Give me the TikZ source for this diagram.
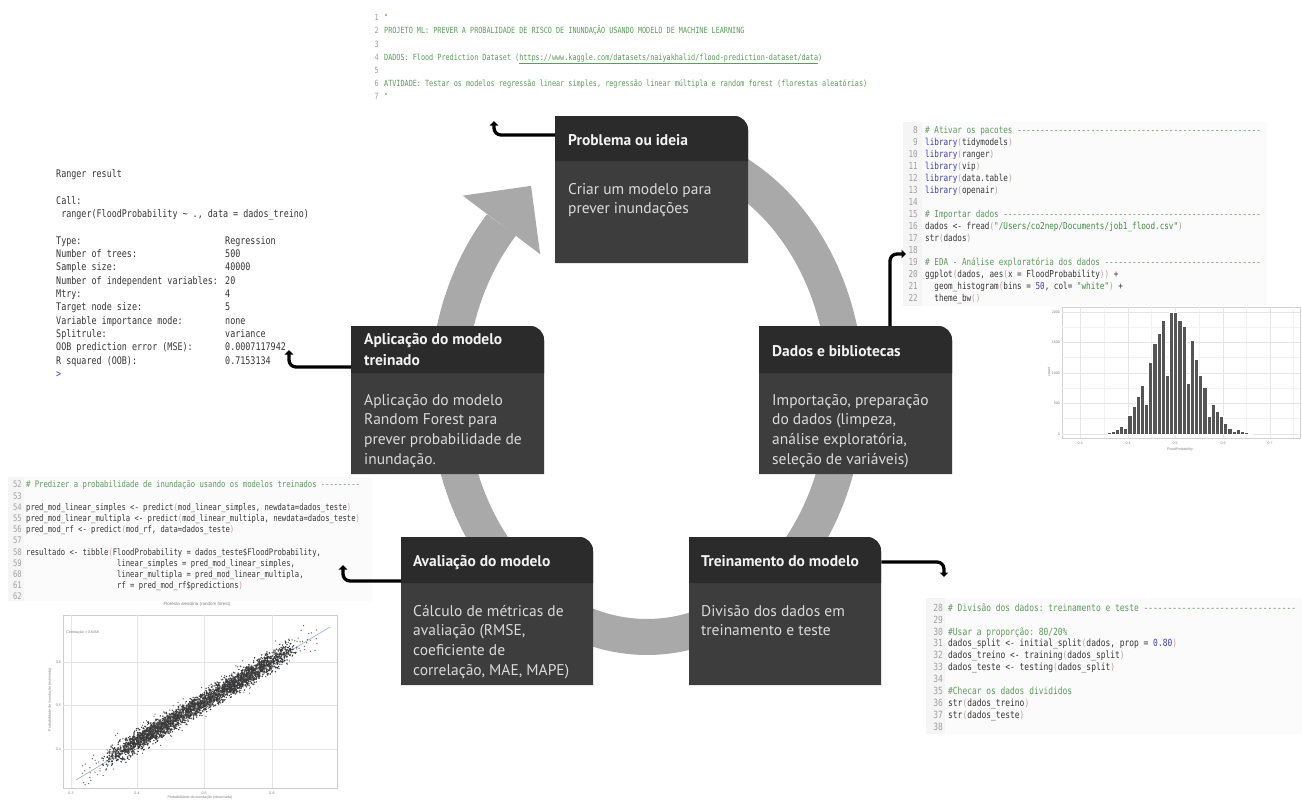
\documentclass[tikz,border=0pt]{standalone}
\usepackage{fontspec}
\setmainfont{PT Sans}
\setmonofont[FakeStretch=0.8]{DejaVu Sans Mono}
\newfontfamily\plotfont{Liberation Sans}
\usetikzlibrary{arrows.meta}
\definecolor{hdrbg}{HTML}{2B2B2B}
\definecolor{bdybg}{HTML}{3D3D3D}
\definecolor{hdrfg}{HTML}{F2F2F2}
\definecolor{bodyfg}{HTML}{DADADA}
\definecolor{ringc}{HTML}{A9A9A9}
\definecolor{cgreen}{HTML}{5C9C5C}
\definecolor{cblue}{HTML}{3C3CC8}
\definecolor{cnumc}{HTML}{A0A0A0}
\definecolor{ctext}{HTML}{363636}
\definecolor{cparc}{HTML}{C4A0A0}
\definecolor{cstrc}{HTML}{3F8F3F}
\definecolor{barc}{HTML}{555555}
\definecolor{ptc}{HTML}{3A3A3A}
\definecolor{lineblue}{HTML}{8FB0D0}
\newcommand\codesz[2]{\fontsize{#1}{#2}\selectfont\ttfamily}
\newcommand\ccom[1]{\textcolor{cgreen}{#1}}
\newcommand\ckw[1]{\textcolor{cblue}{#1}}
\newcommand\cpar[1]{\textcolor{cparc}{#1}}
\newcommand\cstr[1]{\textcolor{cstrc}{#1}}
\newcommand\cnmb[1]{\textcolor{cblue}{#1}}
\newcommand\stagebox[6]{%
  \node[boxnode, minimum width=#4pt, minimum height=#5pt] (#1) at (#2,#3) {};
  \fill[bdybg] ({#2+#4/2},#3) [rounded corners=14pt] -- ({#2+#4},#3) -- ({#2+#4},{#3+30}) [sharp corners] -- ({#2+#4},{#3+#5}) -- (#2,{#3+#5}) -- (#2,#3) -- cycle;
  \fill[hdrbg] ({#2+#4/2},#3) [rounded corners=14pt] -- ({#2+#4},#3) -- ({#2+#4},{#3+30}) [sharp corners] -- ({#2+#4},{#3+#6}) -- (#2,{#3+#6}) -- (#2,#3) -- cycle;
}
\begin{document}
\begin{tikzpicture}[x=1pt,y=-1pt,
  hdrtxt/.style={inner sep=0, anchor=base west, text=hdrfg, font=\bfseries\fontsize{15.5}{21}\selectfont},
  bodytxt/.style={inner sep=0, anchor=base west, text=bodyfg, font=\fontsize{15.5}{19.7}\selectfont},
  boxnode/.style={inner sep=0, anchor=north west},
  conn/.style={line width=3.3pt, black, rounded corners=7pt, -{Triangle[length=4.5pt,width=8.5pt]}},
  codel/.style={inner sep=0, anchor=base west, text=ctext},
  coden/.style={inner sep=0, anchor=base east, text=cnumc},
  ticklab/.style={inner sep=0, text=gray, font=\plotfont\fontsize{3.6}{4}\selectfont},
  gridmaj/.style={gray!20, line width=0.5pt},
  gridmin/.style={gray!10, line width=0.3pt},
]
\useasboundingbox (0,0) rectangle (1302,800);
\fill[white] (0,0) rectangle (1302,800);

% ---------------- code panel backgrounds ----------------
\fill[gray!3] (903,122) rectangle (1267,306);
\fill[gray!8] (903,122) rectangle (922,306);
\fill[gray!3] (8,477) rectangle (372,601);
\fill[gray!8] (8,477) rectangle (24,601);
\fill[gray!3] (926,598) rectangle (1302,734);
\fill[gray!8] (926,598) rectangle (945,734);

% ---------------- ring ----------------
\def\rcx{647}\def\rcy{392}\def\rrx{199}\def\rry{245}
\draw[ringc, line width=36pt] plot[domain=-223:76, samples=160, variable=\t] ({\rcx+\rrx*cos(\t)},{\rcy-\rry*sin(\t)});
\pgfmathsetmacro\rTe{137}
\pgfmathsetmacro\rEx{\rcx+\rrx*cos(\rTe)}
\pgfmathsetmacro\rEy{\rcy-\rry*sin(\rTe)}
\pgfmathsetmacro\rDx{\rrx/100*sin(\rTe)}
\pgfmathsetmacro\rDy{\rry/100*cos(\rTe)}
\pgfmathsetmacro\rDl{sqrt(\rDx*\rDx+\rDy*\rDy)}
\pgfmathsetmacro\rUx{\rDx/\rDl}
\pgfmathsetmacro\rUy{\rDy/\rDl}
\fill[ringc] ({\rEx+49*\rUx},{\rEy+49*\rUy}) -- ({\rEx-48.5*\rUy},{\rEy+48.5*\rUx}) -- ({\rEx+48.5*\rUy},{\rEy-48.5*\rUx}) -- cycle;

% ---------------- stage boxes ----------------
\stagebox{p1}{555}{116}{193}{147}{45}
\stagebox{p2}{759}{326}{193}{148}{47}
\stagebox{p3}{351}{326}{193}{148}{47}
\stagebox{p4}{401}{537}{192}{148}{46}
\stagebox{p5}{689}{537}{192}{148}{46}

\node[hdrtxt] (p1t) at (568,145.5) {Problema ou ideia};
\node[bodytxt] (p1b) at (568,194) {\begin{tabular}[t]{@{}l@{}}Criar um modelo para\\prever inundações\end{tabular}};
\node[hdrtxt] (p2t) at (772,356) {Dados e bibliotecas};
\node[bodytxt] (p2b) at (772,405) {\begin{tabular}[t]{@{}l@{}}Importação, preparação\\do dados (limpeza,\\análise exploratória,\\seleção de variáveis)\end{tabular}};
\node[hdrtxt] (p3t) at (364,344) {\begin{tabular}[t]{@{}l@{}}Aplicação do modelo\\treinado\end{tabular}};
\node[bodytxt] (p3b) at (364,405) {\begin{tabular}[t]{@{}l@{}}Aplicação do modelo\\Random Forest para\\prever probabilidade de\\inundação.\end{tabular}};
\node[hdrtxt] (p4t) at (413,566.5) {Avaliação do modelo};
\node[bodytxt] (p4b) at (413,616) {\begin{tabular}[t]{@{}l@{}}Cálculo de métricas de\\avaliação (RMSE,\\coeficiente de\\correlação, MAE, MAPE)\end{tabular}};
\node[hdrtxt] (p5t) at (701,566.5) {Treinamento do modelo};
\node[bodytxt] (p5b) at (701,616) {\begin{tabular}[t]{@{}l@{}}Divisão dos dados em\\treinamento e teste\end{tabular}};

% ---------------- top code ----------------
\node[coden] (t1n) at (379,20.7) {\codesz{8.5}{13.2}\begin{tabular}[t]{@{}r@{}}1\\2\\3\\4\\5\\6\\7\end{tabular}};
\node[codel, text=cgreen] (t1c) at (384,20.7) {\codesz{8.5}{13.2}\begin{tabular}[t]{@{}l@{}}"\\PROJETO ML: PREVER A PROBALIDADE DE RISCO DE INUNDAÇÃO USANDO MODELO DE MACHINE LEARNING\\ \\DADOS: Flood Prediction Dataset (\underline{https://www.kaggle.com/datasets/naiyakhalid/flood-prediction-dataset/data})\\ \\ATVIDADE: Testar os modelos regressão linear simples, regressão linear múltipla e random forest (florestas aleatórias)\\"\end{tabular}};

% ---------------- ranger output ----------------
\node[codel] (rgl) at (56,177.4) {\codesz{10.5}{13.35}\begin{tabular}[t]{@{}l@{}}Ranger result\\ \\Call:\\~ranger(FloodProbability \textasciitilde{} ., data = dados\_treino)\\ \\Type:\\Number of trees:\\Sample size:\\Number of independent variables:\\Mtry:\\Target node size:\\Variable importance mode:\\Splitrule:\\OOB prediction error (MSE):\\R squared (OOB):\\\textcolor{cblue}{>}\end{tabular}};
\node[codel] (rgv) at (225,244.15) {\codesz{10.5}{13.35}\begin{tabular}[t]{@{}l@{}}Regression\\500\\40000\\20\\4\\5\\none\\variance\\0.0007117942\\0.7153134\end{tabular}};

% ---------------- library code ----------------
\node[coden] (t3n) at (918,133.1) {\codesz{9.55}{12}\begin{tabular}[t]{@{}r@{}}8\\9\\10\\11\\12\\13\\14\\15\\16\\17\\18\\19\\20\\21\\22\end{tabular}};
\node[codel] (t3c) at (925,133.1) {\codesz{9.55}{12}\begin{tabular}[t]{@{}l@{}}%
\ccom{\# Ativar os pacotes -----------------------------------------------------}\\
\ckw{library}\cpar{(}tidymodels\cpar{)}\\
\ckw{library}\cpar{(}ranger\cpar{)}\\
\ckw{library}\cpar{(}vip\cpar{)}\\
\ckw{library}\cpar{(}data.table\cpar{)}\\
\ckw{library}\cpar{(}openair\cpar{)}\\
\\
\ccom{\# Importar dados --------------------------------------------------------}\\
dados <- fread\cpar{(}\cstr{"/Users/co2nep/Documents/job1\_flood.csv"}\cpar{)}\\
str\cpar{(}dados\cpar{)}\\
\\
\ccom{\# EDA - Análise exploratória dos dados ----------------------------------}\\
ggplot\cpar{(}dados, aes\cpar{(}x = FloodProbability\cpar{))} +\\
~~geom\_histogram\cpar{(}bins = \cnmb{50}, col= \cstr{"white"}\cpar{)} +\\
~~theme\_bw\cpar{()}\end{tabular}};

% ---------------- histogram ----------------
\draw[gray!35, line width=0.4pt] (1062,307) rectangle (1300,438);
\foreach \gx in {1104,1151.5,1199,1246.5,1293} \draw[gridmin] (\gx,307) -- (\gx,438);
\foreach \gy in {418.5,388,357.5,327} \draw[gridmin] (1062,\gy) -- (1300,\gy);
\foreach \gx in {1080,1128,1175,1223,1270} \draw[gridmaj] (\gx,307) -- (\gx,438);
\foreach \gy in {434,403,373,342,312} \draw[gridmaj] (1062,\gy) -- (1300,\gy);
\foreach \tp [count=\i from 0] in {398,393,388,380,385,345,320,290,255,313,188,130,100,62,225,38,38,62,80,250,122,178,225,262,348,312,335,350,370,385,395,388,395,398,400}
  \filldraw[fill=barc, draw=white, line width=0.35pt] ({1106.7+4.17*\i},434) rectangle ({1106.7+4.17*(\i+1)},{300+\tp/3});
\foreach \lx/\lt [count=\j] in {1080/0.3,1128/0.4,1175/0.5,1223/0.6,1270/0.7}
  \node[ticklab] (hx\j) at (\lx,443) {\lt};
\foreach \ly/\lt [count=\j] in {434/0,403/500,373/1000,342/1500,312/2000}
  \node[ticklab, anchor=east] (hy\j) at (1060,\ly) {\lt};
\node[ticklab] (hxl) at (1180,450) {FloodProbability};
\node[ticklab, rotate=90] (hyl) at (1049,372) {count};

% ---------------- predict code ----------------
\node[coden] (t4n) at (22,487.9) {\codesz{9}{11.2}\begin{tabular}[t]{@{}r@{}}52\\53\\54\\55\\56\\57\\58\\59\\60\\61\\62\end{tabular}};
\node[codel] (t4c) at (26,487.9) {\codesz{9}{11.2}\begin{tabular}[t]{@{}l@{}}%
\ccom{\# Predizer a probabilidade de inundação usando os modelos treinados ---------}\\
\\
pred\_mod\_linear\_simples <- predict\cpar{(}mod\_linear\_simples, newdata=dados\_teste\cpar{)}\\
pred\_mod\_linear\_multipla <- predict\cpar{(}mod\_linear\_multipla, newdata=dados\_teste\cpar{)}\\
pred\_mod\_rf <- predict\cpar{(}mod\_rf, data=dados\_teste\cpar{)}\\
\\
resultado <- tibble\cpar{(}FloodProbability = dados\_teste\$FloodProbability,\\
~~~~~~~~~~~~~~~~~~~~~linear\_simples = pred\_mod\_linear\_simples,\\
~~~~~~~~~~~~~~~~~~~~~linear\_multipla = pred\_mod\_linear\_multipla,\\
~~~~~~~~~~~~~~~~~~~~~rf = pred\_mod\_rf\$predictions\cpar{)}\\
\end{tabular}};

% ---------------- scatter plot ----------------
\node[ticklab, font=\plotfont\fontsize{4.5}{5}\selectfont] (st) at (197,604) {Floresta aleatória (random forest)};
\draw[gray!40, line width=0.4pt] (63,615) rectangle (337,788);
\foreach \gx in {71,137,204,272} \draw[gridmaj] (\gx,615) -- (\gx,788);
\foreach \gy in {662,705,749} \draw[gridmaj] (63,\gy) -- (337,\gy);
\node[ticklab, anchor=west] (sc) at (66,633) {Correlação = 0.8458};
\draw[lineblue, line width=0.6pt] (76,780) -- (330,627);
\pgfmathsetseed{7}
\foreach \k in {1,...,3200} {
  \pgfmathsetmacro\sT{0.5+0.34*rand+0.08*rand}
  \pgfmathsetmacro\sN{5*(rand+rand+rand)}
  \fill[ptc] ({82+236*\sT},{774-140*\sT+\sN}) circle (0.8);
}
\foreach \k in {1,...,240} {
  \pgfmathsetmacro\sT{0.5+0.5*rand}
  \pgfmathsetmacro\sN{10*(rand+rand)}
  \fill[ptc!75] ({82+236*\sT},{774-140*\sT+\sN}) circle (0.7);
}
\foreach \lx/\lt [count=\j] in {71/0.3,137/0.4,204/0.5,272/0.6}
  \node[ticklab] (sx\j) at (\lx,793) {\lt};
\foreach \ly/\lt [count=\j] in {749/0.4,705/0.5,662/0.6}
  \node[ticklab, anchor=east] (sy\j) at (61,\ly) {\lt};
\node[ticklab, rotate=90] (syl) at (50,700) {Probabilidade de inundação (estimada)};
\node[ticklab] (sxl) at (200,798) {Probabilidade de inundação (observada)};

% ---------------- training code ----------------
\node[coden] (t5n) at (943,611.2) {\codesz{9.9}{11.9}\begin{tabular}[t]{@{}r@{}}28\\29\\30\\31\\32\\33\\34\\35\\36\\37\\38\end{tabular}};
\node[codel] (t5c) at (948,611.2) {\codesz{9.9}{11.9}\begin{tabular}[t]{@{}l@{}}%
\ccom{\# Divisão dos dados: treinamento e teste --------------------------------}\\
\\
\ccom{\#Usar a proporção: 80/20\%}\\
dados\_split <- initial\_split\cpar{(}dados, prop = \cnmb{0.80}\cpar{)}\\
dados\_treino <- training\cpar{(}dados\_split\cpar{)}\\
dados\_teste <- testing\cpar{(}dados\_split\cpar{)}\\
\\
\ccom{\#Checar os dados divididos}\\
str\cpar{(}dados\_treino\cpar{)}\\
str\cpar{(}dados\_teste\cpar{)}\\
\end{tabular}};

% ---------------- connectors ----------------
\coordinate (c1) at (494,121);
\coordinate (c2) at (906,254);
\coordinate (c3) at (289,350);
\coordinate (c4) at (343,565);
\coordinate (c5) at (944,577);
\draw[conn] ([yshift=-19pt]p1.north west) -| (c1);
\draw[conn] ([xshift=131pt]p2.north west) |- (c2);
\draw[conn] ([yshift=-41pt]p3.north west) -| (c3);
\draw[conn] ([yshift=-44pt]p4.north west) -| (c4);
\draw[conn] ([yshift=-25pt]p5.north east) -| (c5);
\end{tikzpicture}
\end{document}
